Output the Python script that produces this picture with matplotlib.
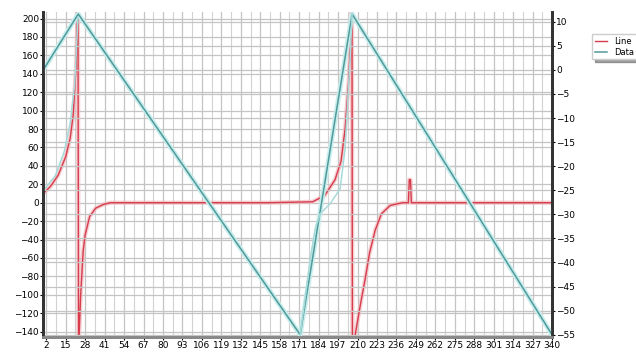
import matplotlib.pyplot as plt

# x tick labels along the bottom
x_ticks = [2, 15, 28, 41, 54, 67, 80, 93, 106, 119, 132, 145, 158, 171, 184,
           197, 210, 223, 236, 249, 262, 275, 288, 301, 314, 327, 340]

# red curve, left axis
red_x = [0, 5, 10, 15, 18, 20, 22, 23.2, 23.6, 25, 26.7, 28, 31, 35, 40, 45,
         100, 150, 180, 188, 195, 199, 201.7, 204, 205.5, 206.3,
         206.6, 208.4, 212, 215, 218, 221.8, 226, 231.8, 240, 244, 244.6,
         245.4, 246, 280, 340]
red_y = [10, 18, 30, 50, 70, 95, 150, 230, -160, -100, -52, -35, -15, -6, -2, 0,
         0, 0, 1, 7.6, 25, 45, 80, 130, 180, 230,
         -160, -144, -110, -84, -55, -30, -12, -3, 0, 0, 25,
         25, 0, 0, 0]

# dark teal line, right axis
line_x = [0, 23.4, 171.7, 206.4, 340]
line_y = [0, 11.6, -55, 11.6, -55]

# light teal curve pieces, right axis
data1_x = [0, 8, 14, 18, 21, 23.2]
data1_y = [-25, -22, -17, -11, -3, 11]
data2_x = [171.7, 175, 178.4, 181.7, 185, 191.7, 198.4, 201.7, 205, 206.4]
data2_y = [-55, -47.4, -39.2, -33, -29.9, -27.8, -24.7, -16.4, 2.1, 11.7]

plt.rcParams['font.family'] = 'DejaVu Sans'
fig = plt.figure(figsize=(6.36, 3.56), dpi=100)
ax = fig.add_axes([0.068, 0.053, 0.8, 0.913])
ax2 = ax.twinx()

ax.plot(red_x, red_y, color='#f2b8bd', lw=3.0, alpha=0.7)
l1, = ax.plot(red_x, red_y, color='#d63c4c', lw=1.0, label='Line')
ax2.plot(line_x, line_y, color='#c9ecec', lw=3.5)
l2, = ax2.plot(line_x, line_y, color='#4f9a9a', lw=1.1, label='Data')
ax2.plot(data1_x, data1_y, color='#a8dada', lw=1.1)
ax2.plot(data2_x, data2_y, color='#a8dada', lw=1.1)

ax.set_xlim(0, 340)
ax.set_ylim(-146, 207)
ax2.set_ylim(-55.5, 12)
ax.set_xticks(x_ticks)
ax.set_xticklabels([str(t) for t in x_ticks], fontsize=6.5)
# one extra grid line between each pair of labelled ticks
ax.set_xticks([(a + b) / 2 for a, b in zip(x_ticks[:-1], x_ticks[1:])], minor=True)
ax.set_yticks(range(-140, 201, 20))
ax2.set_yticks(range(-55, 11, 5))
ax.tick_params(axis='y', labelsize=6.5, length=2, pad=1)
ax2.tick_params(axis='y', labelsize=6.5, length=2, pad=1)
ax.tick_params(axis='x', length=2, pad=1)
ax.tick_params(axis='x', which='minor', length=0)

ax.grid(True, which='major', color='#c4c4c4', lw=0.9)
ax.grid(True, which='minor', axis='x', color='#d2d2d2', lw=0.8)
ax2.grid(True, axis='y', color='#c4c4c4', lw=0.9)
ax.set_axisbelow(True)

for a in (ax, ax2):
    a.spines['top'].set_visible(False)
    a.spines['left'].set_linewidth(2)
    a.spines['right'].set_linewidth(2)
    a.spines['left'].set_color('#333333')
    a.spines['right'].set_color('#333333')
    a.spines['bottom'].set_linewidth(2)
    a.spines['bottom'].set_color('#888888')

fig.legend(handles=[l1, l2], loc='upper left', bbox_to_anchor=(0.925, 0.915),
           fontsize=6, frameon=True, shadow=True, fancybox=False,
           handlelength=1.5, borderpad=0.3, labelspacing=0.2)

fig.savefig('out.png', dpi=100)
